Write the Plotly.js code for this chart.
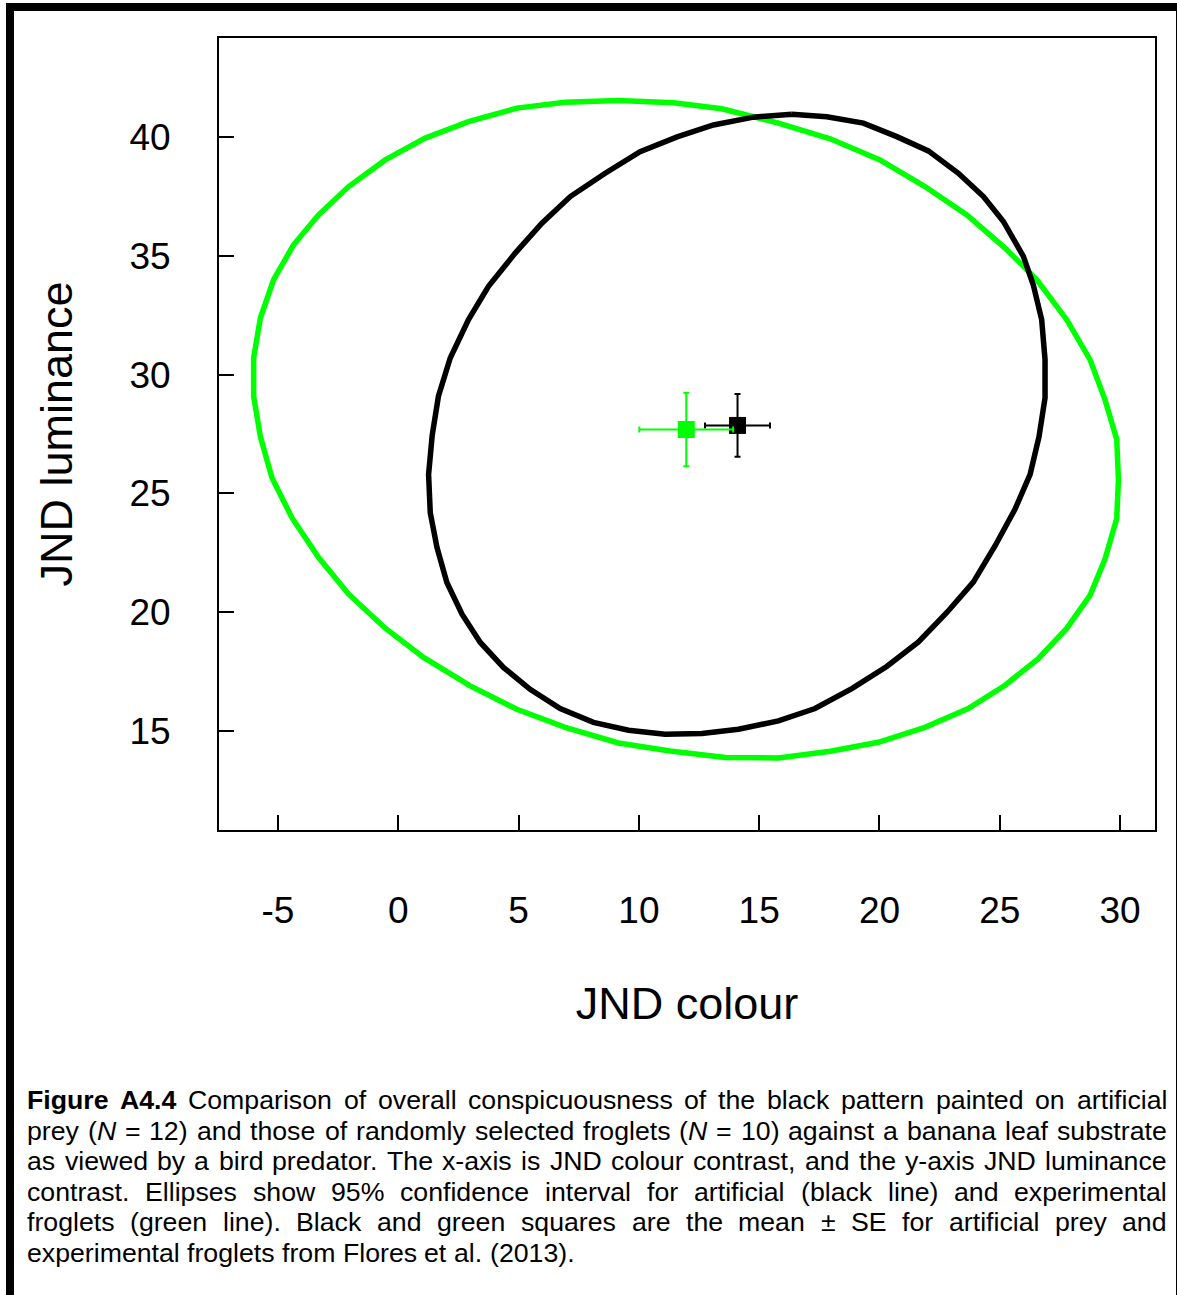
<!DOCTYPE html>
<html><head><meta charset="utf-8">
<script src="https://cdn.plot.ly/plotly-3.0.1.min.js"></script>
<style>html,body{margin:0;padding:0;background:#fff}#chart{width:1177px;height:1295px}</style>
</head><body><div id="chart"></div><script>
// ---- data ----
const greenEllipseX = [11.44, 9.15, 6.94, 4.93, 2.92, 1.12, -0.54, -2.06, -3.31, -4.35, -5.18, -5.73, -6.01, -6.01, -5.73, -5.25, -4.42, -3.31, -2.06, -0.54, 1.05, 2.99, 4.93, 6.94, 9.15, 11.30, 13.59, 15.80, 17.95, 19.95, 21.89, 23.69, 25.22, 26.60, 27.78, 28.75, 29.37, 29.86, 29.93, 29.86, 29.37, 28.75, 27.78, 26.54, 25.22, 23.63, 21.89, 20.02, 17.95, 15.80, 13.45];
const greenEllipseY = [41.44, 41.53, 41.46, 41.21, 40.64, 39.95, 39.03, 37.91, 36.72, 35.46, 33.99, 32.38, 30.70, 29.09, 27.39, 25.66, 23.98, 22.30, 20.76, 19.33, 18.10, 16.90, 15.92, 15.16, 14.50, 14.16, 13.89, 13.87, 14.15, 14.53, 15.16, 15.95, 16.93, 18.05, 19.32, 20.71, 22.23, 23.94, 25.59, 27.27, 28.95, 30.63, 32.31, 33.99, 35.32, 36.72, 37.91, 39.03, 39.92, 40.58, 41.18];
const blackEllipseX = [16.36, 14.76, 13.10, 11.59, 10.05, 8.60, 7.15, 5.97, 4.86, 3.75, 2.92, 2.16, 1.67, 1.41, 1.26, 1.33, 1.61, 2.02, 2.65, 3.41, 4.37, 5.48, 6.73, 8.11, 9.57, 11.09, 12.62, 14.14, 15.80, 17.32, 18.85, 20.30, 21.62, 22.80, 23.90, 24.80, 25.63, 26.26, 26.63, 26.88, 26.88, 26.74, 26.39, 25.98, 25.15, 24.32, 23.28, 22.03, 20.72, 19.33, 17.81];
const blackEllipseY = [40.95, 40.83, 40.50, 40.00, 39.38, 38.47, 37.49, 36.37, 35.11, 33.71, 32.31, 30.70, 29.09, 27.44, 25.80, 24.19, 22.72, 21.25, 19.92, 18.73, 17.68, 16.76, 15.95, 15.37, 15.04, 14.87, 14.90, 15.08, 15.43, 15.95, 16.79, 17.72, 18.75, 19.99, 21.27, 22.79, 24.33, 25.80, 27.39, 29.02, 30.63, 32.31, 33.78, 34.97, 36.44, 37.49, 38.47, 39.41, 40.01, 40.58, 40.85];
const groupNames = ["Experimental froglets", "Artificial prey"];
const meanX = [11.97, 14.10];
const meanY = [27.69, 27.86];
const seX = [1.95, 1.35];
const seY = [1.55, 1.32];
const xTicks = [-5, 0, 5, 10, 15, 20, 25, 30];
const yTicks = [15, 20, 25, 30, 35, 40];
const xTitle = "JND colour";
const yTitle = "JND luminance";
const captionLines = [
  ["<b>Figure</b>", "<b>A4.4</b>", "Comparison", "of", "overall", "conspicuousness", "of", "the", "black", "pattern", "painted", "on", "artificial"],
  ["prey", "(<i>N</i>", "=", "12)", "and", "those", "of", "randomly", "selected", "froglets", "(<i>N</i>", "=", "10)", "against", "a", "banana", "leaf", "substrate"],
  ["as", "viewed", "by", "a", "bird", "predator.", "The", "x-axis", "is", "JND", "colour", "contrast,", "and", "the", "y-axis", "JND", "luminance"],
  ["contrast.", "Ellipses", "show", "95%", "confidence", "interval", "for", "artificial", "(black", "line)", "and", "experimental"],
  ["froglets", "(green", "line).", "Black", "and", "green", "squares", "are", "the", "mean", "±", "SE", "for", "artificial", "prey", "and"],
  ["experimental", "froglets", "from", "Flores", "et", "al.", "(2013)."]
];

// ---- layout constants ----
const W = 1177, H = 1295;
const M = {l: 219, r: 22, t: 38, b: 465};
const PW = W - M.l - M.r, PH = H - M.t - M.b;
const FONT = "Liberation Sans, Arial, Helvetica, sans-serif";
const GREEN = "#00ff00";
const px2x = px => (px - M.l) / PW;
const py2y = py => (H - M.b - py) / PH;

// ---- caption (justified) ----
const capSize = 26.7;
const cnv = document.createElement("canvas").getContext("2d");
function measure(word) {
  const parts = word.split(/(<\/?[bi]>)/);
  let bold = false, ital = false, w = 0;
  for (const p of parts) {
    if (p === "<b>") bold = true; else if (p === "</b>") bold = false;
    else if (p === "<i>") ital = true; else if (p === "</i>") ital = false;
    else if (p) {
      cnv.font = (ital ? "italic " : "") + (bold ? "bold " : "") + capSize + "px 'Liberation Sans'";
      w += cnv.measureText(p).width;
    }
  }
  return w;
}
cnv.font = capSize + "px 'Liberation Sans'";
const spaceW = cnv.measureText(" ").width;
const capLeft = 26, capRight = 1166;
const lineY = [1100, 1130.5, 1161, 1191.5, 1222, 1252.5];
const annotations = [];
captionLines.forEach((words, li) => {
  const widths = words.map(measure);
  const total = widths.reduce((a, b) => a + b, 0);
  const justify = li < captionLines.length - 1;
  const gap = justify ? (capRight - capLeft - total) / (words.length - 1) : spaceW;
  let x = capLeft;
  words.forEach((wd, i) => {
    annotations.push({
      text: wd, xref: "paper", yref: "paper", x: px2x(x), y: py2y(lineY[li]),
      xanchor: "left", yanchor: "middle", showarrow: false, borderpad: 0,
      font: {family: FONT, size: capSize, color: "#000"}
    });
    x += widths[i] + gap;
  });
});

// ---- traces ----
const close = a => a.concat([a[0]]);
const traces = [
  {x: close(greenEllipseX), y: close(greenEllipseY), mode: "lines", line: {color: GREEN, width: 5.5}, hoverinfo: "skip", showlegend: false},
  {x: close(blackEllipseX), y: close(blackEllipseY), mode: "lines", line: {color: "#000", width: 5.5}, hoverinfo: "skip", showlegend: false},
  {x: [meanX[1]], y: [meanY[1]], name: groupNames[1], mode: "markers",
   marker: {symbol: "square", size: 17, color: "#000"},
   error_x: {type: "data", array: [seX[1]], color: "#000", thickness: 2, width: 3},
   error_y: {type: "data", array: [seY[1]], color: "#000", thickness: 2, width: 3}, showlegend: false},
  {x: [meanX[0]], y: [meanY[0]], name: groupNames[0], mode: "markers",
   marker: {symbol: "square", size: 17, color: GREEN},
   error_x: {type: "data", array: [seX[0]], color: GREEN, thickness: 2, width: 3},
   error_y: {type: "data", array: [seY[0]], color: GREEN, thickness: 2, width: 3}, showlegend: false}
];

const axisCommon = {
  showgrid: false, zeroline: false, showline: true, mirror: true,
  linecolor: "#000", linewidth: 2, ticks: "inside", ticklen: 15, tickwidth: 2, tickcolor: "#000",
  tickfont: {family: FONT, size: 37, color: "#000"}, automargin: false
};

const layout = {
  width: W, height: H, margin: M,
  paper_bgcolor: "#fff", plot_bgcolor: "#fff",
  font: {family: FONT, color: "#000"},
  showlegend: false,
  xaxis: Object.assign({}, axisCommon, {
    range: [-7.45, 31.45], tickmode: "array", tickvals: xTicks, ticktext: xTicks.map(String),
    ticklabelstandoff: 47,
    title: {text: xTitle, font: {family: FONT, size: 45, color: "#000"}, standoff: 57}
  }),
  yaxis: Object.assign({}, axisCommon, {
    range: [10.84, 44.16], tickmode: "array", tickvals: yTicks, ticktext: yTicks.map(String),
    ticklabelstandoff: 39,
    title: {text: yTitle, font: {family: FONT, size: 45, color: "#000"}, standoff: 43}
  }),
  annotations: annotations,
  shapes: [
    {type: "rect", xref: "paper", yref: "paper", x0: px2x(10), x1: px2x(1180), y0: py2y(7), y1: py2y(1310),
     line: {color: "#000", width: 8}, fillcolor: "rgba(0,0,0,0)", layer: "above"}
  ]
};

Plotly.newPlot("chart", traces, layout, {staticPlot: true, displayModeBar: false});
</script></body></html>
